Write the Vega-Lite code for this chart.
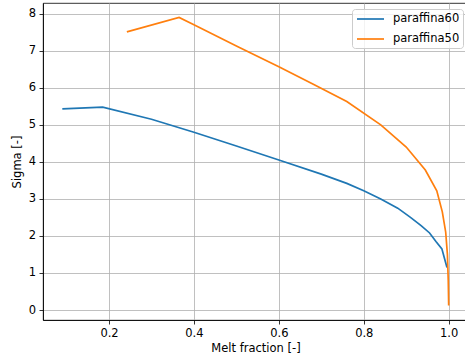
{
  "$schema": "https://vega.github.io/schema/vega-lite/v6.json",
  "width": 425,
  "height": 317,
  "autosize": {"type": "none"},
  "padding": {"left": 43, "top": 3, "right": 0, "bottom": 43},
  "background": "white",
  "config": {
    "font": "DejaVu Sans",
    "view": {"stroke": "#000000", "strokeWidth": 0.8},
    "axis": {
      "labelFont": "DejaVu Sans", "labelFontSize": 11.5, "labelColor": "#000000",
      "titleFont": "DejaVu Sans", "titleFontSize": 11.5, "titleFontWeight": "normal", "titleColor": "#000000",
      "gridColor": "#b0b0b0", "gridWidth": 0.8, "gridOpacity": 1,
      "domainColor": "#000000", "domainWidth": 0.8,
      "tickColor": "#000000", "tickSize": 4, "tickWidth": 0.8,
      "labelPadding": 3.5
    }
  },
  "data": {"values": [
    {"x": 0.09, "y": 5.43, "s": "paraffina60"},
    {"x": 0.185, "y": 5.48, "s": "paraffina60"},
    {"x": 0.3, "y": 5.15, "s": "paraffina60"},
    {"x": 0.4, "y": 4.8, "s": "paraffina60"},
    {"x": 0.5, "y": 4.43, "s": "paraffina60"},
    {"x": 0.6, "y": 4.05, "s": "paraffina60"},
    {"x": 0.7, "y": 3.67, "s": "paraffina60"},
    {"x": 0.76, "y": 3.42, "s": "paraffina60"},
    {"x": 0.8, "y": 3.22, "s": "paraffina60"},
    {"x": 0.84, "y": 3.0, "s": "paraffina60"},
    {"x": 0.88, "y": 2.75, "s": "paraffina60"},
    {"x": 0.91, "y": 2.5, "s": "paraffina60"},
    {"x": 0.935, "y": 2.28, "s": "paraffina60"},
    {"x": 0.955, "y": 2.08, "s": "paraffina60"},
    {"x": 0.97, "y": 1.85, "s": "paraffina60"},
    {"x": 0.984, "y": 1.65, "s": "paraffina60"},
    {"x": 0.99, "y": 1.4, "s": "paraffina60"},
    {"x": 0.996, "y": 1.15, "s": "paraffina60"},
    {"x": 0.242, "y": 7.51, "s": "paraffina50"},
    {"x": 0.365, "y": 7.9, "s": "paraffina50"},
    {"x": 0.4, "y": 7.7, "s": "paraffina50"},
    {"x": 0.5, "y": 7.13, "s": "paraffina50"},
    {"x": 0.6, "y": 6.57, "s": "paraffina50"},
    {"x": 0.68, "y": 6.1, "s": "paraffina50"},
    {"x": 0.76, "y": 5.63, "s": "paraffina50"},
    {"x": 0.84, "y": 5.0, "s": "paraffina50"},
    {"x": 0.9, "y": 4.4, "s": "paraffina50"},
    {"x": 0.945, "y": 3.78, "s": "paraffina50"},
    {"x": 0.972, "y": 3.22, "s": "paraffina50"},
    {"x": 0.985, "y": 2.65, "s": "paraffina50"},
    {"x": 0.993, "y": 2.1, "s": "paraffina50"},
    {"x": 0.997, "y": 1.5, "s": "paraffina50"},
    {"x": 0.999, "y": 0.8, "s": "paraffina50"},
    {"x": 1.0, "y": 0.12, "s": "paraffina50"}
  ]},
  "mark": {"type": "line", "strokeWidth": 1.7, "clip": true},
  "encoding": {
    "x": {"field": "x", "type": "quantitative",
      "scale": {"domain": [0.0445, 1.0455], "nice": false, "zero": false},
      "axis": {"values": [0.2, 0.4, 0.6, 0.8, 1.0], "format": ".1f", "title": "Melt fraction [-]", "titlePadding": 3}},
    "y": {"field": "y", "type": "quantitative",
      "scale": {"domain": [-0.27, 8.29], "nice": false, "zero": false},
      "axis": {"values": [0, 1, 2, 3, 4, 5, 6, 7, 8], "format": "d", "title": "Sigma [-]", "titlePadding": 6}},
    "color": {"field": "s", "type": "nominal",
      "scale": {"domain": ["paraffina60", "paraffina50"], "range": ["#1f77b4", "#ff7f0e"]},
      "legend": {"title": null, "orient": "top-right", "offset": 5.5,
        "symbolType": "M-0.833,0H3.667", "symbolSize": 144, "symbolStrokeWidth": 1.7,
        "labelFontSize": 11.5, "labelFont": "DejaVu Sans", "labelColor": "#000000", "labelOffset": 24,
        "fillColor": "rgba(255,255,255,0.8)", "strokeColor": "#cccccc", "cornerRadius": 3, "padding": 3, "rowPadding": 7}},
    "order": {"field": "x", "type": "quantitative"}
  }
}
